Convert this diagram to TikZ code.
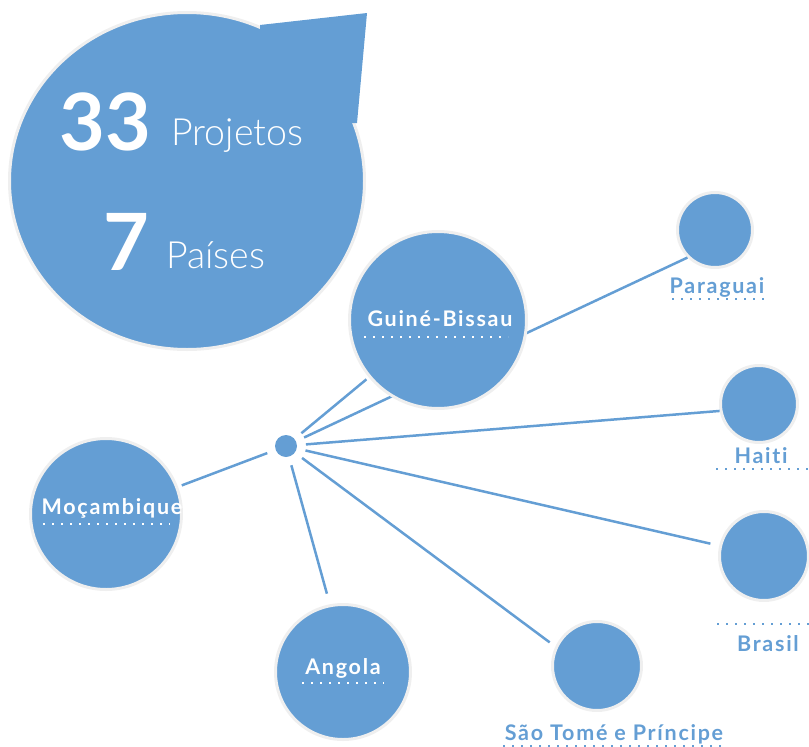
\documentclass[tikz,border=0pt]{standalone}
\usepackage{fontspec}
\setmainfont{Lato}
\newfontfamily\lightfont{Lato Light}
\newfontfamily\labelfont{Lato}[LetterSpace=8, Ligatures=NoCommon]
\definecolor{mapblue}{HTML}{649ED4}
\definecolor{ringgray}{HTML}{EFEFEF}
\tikzstyle{country} = [circle, fill=mapblue, draw=ringgray, line width=3pt, inner sep=0pt]
\tikzstyle{hubdot} = [circle, fill=mapblue, minimum size=22pt, inner sep=0pt, outer sep=9pt]
\tikzstyle{link} = [draw=mapblue, line width=2.5pt]
\tikzstyle{inlabel} = [text=white, font=\labelfont\bfseries\fontsize{21.5}{21.5}\selectfont, inner sep=0pt, anchor=base]
\tikzstyle{outlabel} = [text=mapblue, font=\labelfont\bfseries\fontsize{21.5}{21.5}\selectfont, inner sep=0pt, anchor=base]
\tikzstyle{dots} = [line width=2pt, dash pattern=on 2pt off 7pt]
\tikzstyle{bignum} = [text=white, font=\bfseries\fontsize{79}{79}\selectfont, inner sep=0pt, anchor=base]
\tikzstyle{bigword} = [text=white, font=\lightfont\fontsize{37.5}{37.5}\selectfont, inner sep=0pt, anchor=base west]

\begin{document}
\begin{tikzpicture}[x=1pt, y=-1pt]
    \useasboundingbox (0,0) rectangle (809,747);

        % Bubble
        \draw [ringgray, line width=3pt, fill=mapblue] (187,181) ellipse [x radius=177.5pt, y radius=168.5pt];
        \fill [mapblue] (260,25) -- (367,13) -- (357,123) -- (350,123) -- (260,40) -- cycle;
        \node (projNum) [bignum] at (105,150) {33};
        \node (projWord) [bigword] at (171,145) {Projetos};
        \node (paisNum) [bignum] at (126,270) {7};
        \node (paisWord) [bigword] at (166,268) {Países};

        % Nodes
        \node (hub) [hubdot] at (286,446) {};
        \node (para) [country, minimum size=75pt] at (715,230) {};
        \draw [link] (hub) -- (para.south west); % runs behind Guiné-Bissau
        \node (gb) [country, minimum size=177pt] at (438,320) {};
        \node (haiti) [country, minimum size=77pt] at (759,404) {};
        \node (brasil) [country, minimum size=89pt] at (764,556) {};
        \node (stp) [country, minimum size=89pt] at (597,666) {};
        \node (angola) [country, minimum size=135pt] at (343,672) {};
        \node (moc) [country, minimum size=151pt] at (106,514) {};

        % Links
        \draw [link, shorten >=3pt] (hub) -- (gb);
        \draw [link] (hub) -- (haiti.190);
        \draw [link, shorten >=9pt] (hub) -- (brasil);
        \draw [link, shorten >=7pt] (hub) -- (stp.155);
        \draw [link, shorten >=11pt] (hub) -- (angola.101);
        \draw [link, shorten >=4pt] (hub) -- (moc);

        % Labels
        \node (gbText) [inlabel] at (440,326) {Guiné-Bissau};
        \node (mocText) [inlabel] at (112,514) {Moçambique};
        \node (angolaText) [inlabel] at (343,674) {Angola};
        \node (paraText) [outlabel] at (717,293) {Paraguai};
        \node (haitiText) [outlabel] at (761,463) {Haiti};
        \node (brasilText) [outlabel] at (768,651) {Brasil};
        \node (stpText) [outlabel] at (614,740) {São Tomé e Príncipe};

        % Dotted underlines
        \draw [dots, white] (364,337) -- (508,337);
        \draw [dots, white] (43,524) -- (170,524);
        \draw [dots, white] (302,683) -- (384,683);
        \draw [dots, mapblue] (672,299) -- (767,299);
        \draw [dots, mapblue] (716,469) -- (809,469);
        \draw [dots, mapblue] (717,624) -- (809,624);
        \draw [dots, mapblue] (503,746) -- (726,746);

\end{tikzpicture}
\end{document}
